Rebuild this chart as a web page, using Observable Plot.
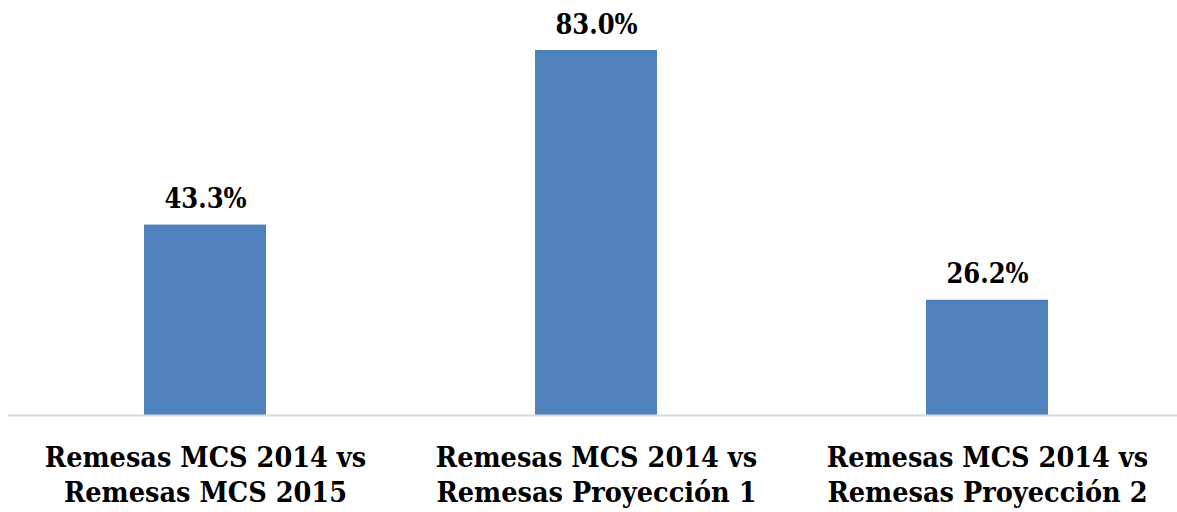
<!DOCTYPE html>
<html>
<head>
<meta charset="utf-8">
<script src="https://cdn.jsdelivr.net/npm/d3@7"></script>
<script src="https://cdn.jsdelivr.net/npm/@observablehq/plot@0.6"></script>
<style>
  html, body { margin: 0; padding: 0; background: #fff; }
  #chart svg { display: block; }
</style>
</head>
<body>
<div id="chart"></div>
<script>
const categories = [
  "Remesas MCS 2014 vs\nRemesas MCS 2015",
  "Remesas MCS 2014 vs\nRemesas Proyección 1",
  "Remesas MCS 2014 vs\nRemesas Proyección 2"
];
const values = [43.3, 83.0, 26.2];
const valueLabels = ["43.3%", "83.0%", "26.2%"];

const data = categories.map((c, i) => ({category: c, value: values[i], label: valueLabels[i]}));
const font = "'DejaVu Serif Condensed', 'DejaVu Serif', serif";

const chart = Plot.plot({
  width: 1177,
  height: 512,
  marginLeft: 8,
  marginRight: 0,
  marginTop: 50,
  marginBottom: 97,
  style: {fontFamily: font, background: "#fff"},
  x: {domain: categories, range: [8, 1183], paddingInner: 0.688, paddingOuter: 0.344, axis: null},
  y: {domain: [0, 83], axis: null},
  marks: [
    Plot.barY(data, {x: "category", y: "value", fill: "#4F81BD"}),
    Plot.ruleY([0], {stroke: "#d9d9d9", strokeWidth: 2}),
    Plot.text(data, {x: "category", y: "value", text: "label", lineAnchor: "bottom", dy: -17,
      fontSize: 27, fontWeight: "bold", fill: "#000"}),
    Plot.text(data, {x: "category", y: 0, text: "category", lineAnchor: "top", dy: 27,
      fontSize: 28.5, fontWeight: "bold", lineHeight: 1.23, fill: "#000"})
  ]
});
document.getElementById("chart").appendChild(chart);
</script>
</body>
</html>
